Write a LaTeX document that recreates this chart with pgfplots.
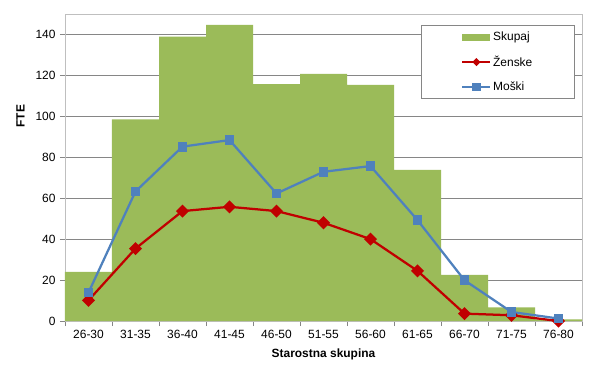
\documentclass[border=0pt]{standalone}
\usepackage{fontspec}
\setmainfont{Liberation Sans}
\usepackage{pgfplots}
\pgfplotsset{compat=1.18}
\definecolor{skupaj}{HTML}{9BBB59}
\definecolor{zenske}{HTML}{C00000}
\definecolor{moski}{HTML}{4F81BD}
\definecolor{gridc}{HTML}{868686}
\definecolor{boxc}{HTML}{BFBFBF}
\begin{document}
\begin{tikzpicture}
\begin{axis}[
  scale only axis,
  width=517bp, height=307bp,
  xmin=-0.5, xmax=10.5,
  ymin=0, ymax=150,
  xtick={0,...,10},
  xticklabels={26-30,31-35,36-40,41-45,46-50,51-55,56-60,61-65,66-70,71-75,76-80},
  minor xtick={-0.5,0.5,...,10.5},
  ytick={0,20,...,140},
  ymajorgrids,
  major grid style={gridc, line width=0.8bp},
  axis line style={boxc, line width=0.8bp},
  tick align=outside,
  major x tick style={draw=none},
  major y tick style={gridc, line width=0.8bp},
  minor x tick style={gridc, line width=0.8bp},
  major tick length=5bp, minor tick length=5bp,
  xtick pos=lower, ytick pos=left,
  /pgf/number format/assume math mode=true,
  tick label style={font=\fontsize{12}{14}\selectfont, black},
  xticklabel style={yshift=-1bp},
  yticklabel style={xshift=-1bp},
  xlabel={Starostna skupina},
  ylabel={FTE},
  label style={font=\fontsize{12}{14}\selectfont\bfseries},
  xlabel style={yshift=-3bp},
  ylabel style={at={(ticklabel cs:0.667)}, yshift=4bp},
  legend style={at={(0.986,0.964)}, anchor=north east, draw=gridc, line width=0.8bp,
    font=\fontsize{12}{14}\selectfont, inner xsep=40bp, inner ysep=4.5bp,
    row sep=10bp, cells={anchor=west}},
  legend cell align=left,
]
\addplot[ybar, bar width=1, fill=skupaj, draw=none,
  legend image code/.code={\fill[skupaj] (0bp,-3.5bp) rectangle (28bp,3.5bp);}]
  coordinates {(0,24) (1,98.5) (2,139) (3,144.7) (4,115.7) (5,120.7) (6,115.4) (7,73.8) (8,22.5) (9,6.7) (10,0.8)};
\addlegendentry{Skupaj}
\addplot[zenske, line width=2.25bp, mark=square*, mark size=3.5bp, mark options={rotate=45},
  legend image code/.code={\draw[zenske, line width=1.5bp] (0bp,0bp) -- (28bp,0bp); \fill[zenske] (14bp,0bp) +(0,2.5bp) -- +(2.5bp,0) -- +(0,-2.5bp) -- +(-2.5bp,0) -- cycle;}]
  coordinates {(0,10.1) (1,35.4) (2,53.7) (3,55.8) (4,53.7) (5,48) (6,40) (7,24.5) (8,3.6) (9,2.8) (10,0)};
\addlegendentry{Ženske}
\addplot[moski, line width=2.25bp, mark=square*, mark size=3.8bp,
  legend image code/.code={\draw[moski, line width=1.5bp] (0bp,0bp) -- (28bp,0bp); \fill[moski] (11bp,-3bp) rectangle (17bp,3bp);}]
  coordinates {(0,13.9) (1,63.3) (2,85.2) (3,88.4) (4,62.3) (5,72.9) (6,75.7) (7,49.3) (8,19.9) (9,4.4) (10,1.2)};
\addlegendentry{Moški}
\end{axis}
\path ([xshift=-65bp,yshift=-51.3bp]current axis.south west) rectangle ([xshift=14bp,yshift=14bp]current axis.north east);
\end{tikzpicture}
\end{document}
